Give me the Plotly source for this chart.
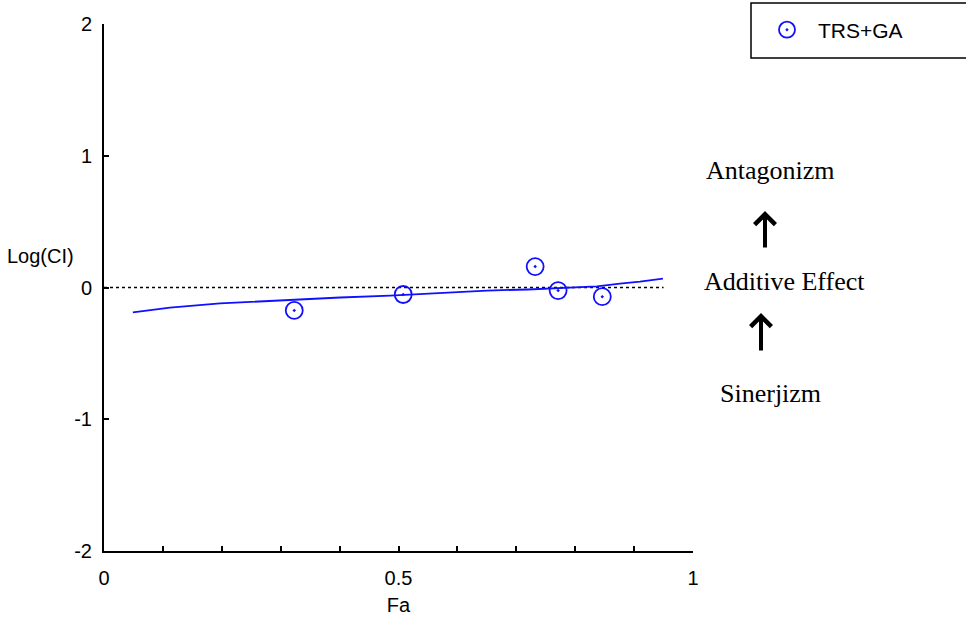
import plotly.graph_objects as go

# Data points (Fa, Log(CI))
pts_fa = [0.323, 0.508, 0.732, 0.771, 0.846]
pts_logci = [-0.174, -0.053, 0.159, -0.023, -0.070]

# Fitted curve
fit_fa = [0.049, 0.112, 0.197, 0.260, 0.324, 0.401, 0.486, 0.565, 0.650, 0.720, 0.837, 0.876, 0.910, 0.949]
fit_logci = [-0.189, -0.152, -0.121, -0.106, -0.091, -0.076, -0.061, -0.045, -0.023, -0.015, 0.008, 0.030, 0.045, 0.068]

# Additive reference line
ref_fa = [0.0, 0.95]
ref_logci = [0.0, 0.0]

x_tickvals = [0, 0.1, 0.2, 0.3, 0.4, 0.5, 0.6, 0.7, 0.8, 0.9, 1.0]
x_ticktext = ["0", "", "", "", "", "0.5", "", "", "", "", "1"]
y_tickvals = [-2, -1, 0, 1, 2]
y_ticktext = ["-2", "-1", "0", "1", "2"]

series_name = "TRS+GA"

L, R, T, B = 104, 273, 24, 68
W, H = 966, 619
pw = W - L - R
ph = H - T - B


def px2x(p):
    return (p - L) / pw


def px2y(p):
    return (H - B - p) / ph


fig = go.Figure()

fig.add_trace(go.Scatter(
    x=ref_fa, y=ref_logci, mode="lines",
    line=dict(color="black", width=1.5, dash="dot"),
    showlegend=False, hoverinfo="skip"))

fig.add_trace(go.Scatter(
    x=fit_fa, y=fit_logci, mode="lines",
    line=dict(color="#1010ff", width=1.8),
    showlegend=False))

fig.add_trace(go.Scatter(
    x=pts_fa, y=pts_logci, mode="markers", name=series_name,
    marker=dict(symbol="circle-open-dot", size=17, color="#1010ff",
                line=dict(width=1.8, color="#1010ff"))))

tick_font = dict(family="Liberation Sans, Arial, sans-serif", size=20, color="black")
legend_font = dict(family="Liberation Sans, Arial, sans-serif", size=21, color="black")

fig.update_layout(
    width=W, height=H,
    margin=dict(l=L, r=R, t=T, b=B, pad=0, autoexpand=False),
    paper_bgcolor="white", plot_bgcolor="white",
    font=tick_font,
    xaxis=dict(range=[0, 1], tickvals=x_tickvals, ticktext=x_ticktext,
               ticks="inside", ticklen=5, tickwidth=1.5, tickcolor="black",
               showline=True, linecolor="black", linewidth=2,
               showgrid=False, zeroline=False, tickfont=tick_font,
               ticklabelstandoff=8, automargin=False,
               title=dict(text="Fa", font=tick_font, standoff=10)),
    yaxis=dict(range=[-2, 2], tickvals=y_tickvals, ticktext=y_ticktext,
               ticks="inside", ticklen=5, tickwidth=1.5, tickcolor="black",
               showline=True, linecolor="black", linewidth=2,
               showgrid=False, zeroline=False, tickfont=tick_font,
               ticklabelstandoff=6, automargin=False),
    showlegend=True,
    legend=dict(x=px2x(756), y=px2y(30), xanchor="left", yanchor="middle",
                bgcolor="rgba(0,0,0,0)", borderwidth=0,
                font=legend_font, itemwidth=52),
)

# Legend box
fig.add_shape(type="rect", xref="paper", yref="paper",
              x0=px2x(751), x1=px2x(975), y0=px2y(58), y1=px2y(3),
              line=dict(color="black", width=1.5), fillcolor="rgba(0,0,0,0)")

# Y axis title (horizontal)
fig.add_annotation(text="Log(CI)", xref="paper", yref="paper",
                   x=px2x(40), y=px2y(256), showarrow=False,
                   xanchor="center", yanchor="middle", font=tick_font)

serif = dict(family="Liberation Serif, Times New Roman, serif", size=26, color="black")
fig.add_annotation(text="Antagonizm", xref="paper", yref="paper",
                   x=px2x(770), y=px2y(170), showarrow=False,
                   xanchor="center", yanchor="middle", font=serif)
fig.add_annotation(text="Additive Effect", xref="paper", yref="paper",
                   x=px2x(784), y=px2y(281), showarrow=False,
                   xanchor="center", yanchor="middle", font=serif)
fig.add_annotation(text="Sinerjizm", xref="paper", yref="paper",
                   x=px2x(770), y=px2y(393), showarrow=False,
                   xanchor="center", yanchor="middle", font=serif)

# Arrows
for hx, hy, tail in [(765, 211, 249), (761, 313, 352)]:
    fig.add_annotation(text="", xref="paper", yref="paper",
                       x=px2x(hx), y=px2y(hy), ax=0, ay=tail - hy,
                       showarrow=True, arrowhead=4, arrowsize=1,
                       arrowwidth=4, arrowcolor="black")

fig.write_html("out.html")
